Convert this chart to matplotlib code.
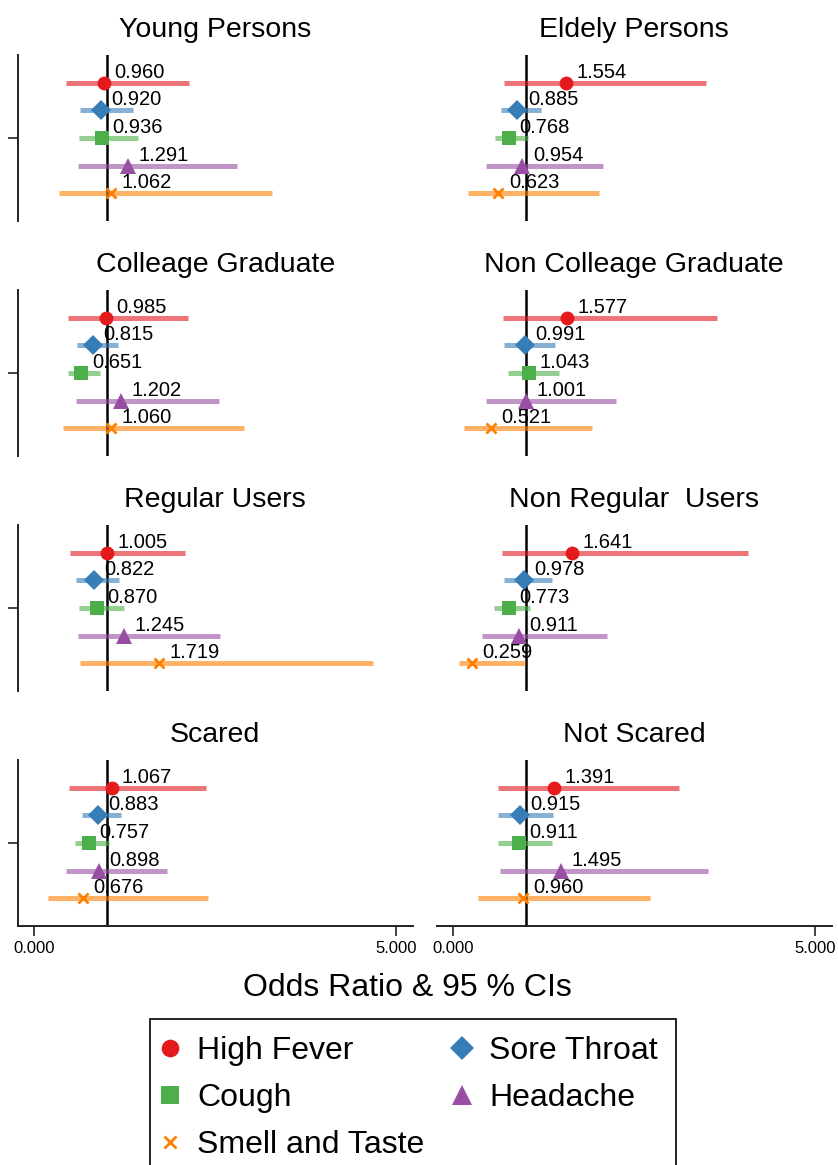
import matplotlib.pyplot as plt
from matplotlib.lines import Line2D

plt.rcParams["font.family"] = ["Liberation Sans", "DejaVu Sans"]

panels = [
    "Young Persons", "Eldely Persons",
    "Colleage Graduate", "Non Colleage Graduate",
    "Regular Users", "Non Regular  Users",
    "Scared", "Not Scared",
]
symptoms = ["High Fever", "Sore Throat", "Cough", "Headache", "Smell and Taste"]
colors = ["#e41a1c", "#377eb8", "#4daf4a", "#984ea3", "#ff7f00"]
markers = ["o", "D", "s", "^", "x"]
msizes = [10, 9.8, 10.3, 11.5, 7]

# odds ratios per panel, order as in symptoms
odds = [
    [0.960, 0.920, 0.936, 1.291, 1.062],
    [1.554, 0.885, 0.768, 0.954, 0.623],
    [0.985, 0.815, 0.651, 1.202, 1.060],
    [1.577, 0.991, 1.043, 1.001, 0.521],
    [1.005, 0.822, 0.870, 1.245, 1.719],
    [1.641, 0.978, 0.773, 0.911, 0.259],
    [1.067, 0.883, 0.757, 0.898, 0.676],
    [1.391, 0.915, 0.911, 1.495, 0.960],
]
lower = [
    [0.437, 0.630, 0.617, 0.598, 0.345],
    [0.694, 0.652, 0.579, 0.446, 0.197],
    [0.460, 0.585, 0.470, 0.575, 0.396],
    [0.690, 0.698, 0.749, 0.450, 0.142],
    [0.488, 0.579, 0.612, 0.607, 0.634],
    [0.666, 0.703, 0.566, 0.395, 0.073],
    [0.479, 0.658, 0.566, 0.441, 0.193],
    [0.620, 0.611, 0.611, 0.639, 0.339],
]
upper = [
    [2.138, 1.357, 1.435, 2.805, 3.283],
    [3.490, 1.213, 1.030, 2.064, 2.018],
    [2.130, 1.150, 0.910, 2.552, 2.892],
    [3.641, 1.407, 1.466, 2.243, 1.917],
    [2.079, 1.172, 1.241, 2.566, 4.681],
    [4.073, 1.366, 1.066, 2.119, 0.993],
    [2.378, 1.192, 1.026, 1.830, 2.405],
    [3.126, 1.379, 1.366, 3.517, 2.721],
]

W, H = 838, 1165
fig = plt.figure(figsize=(W / 100, H / 100), dpi=100)

col_left = [17.7, 436.7]
ax_w = 395.0
row_top = [55, 290, 525, 760]
ax_h = 166

for k, title in enumerate(panels):
    r, c = divmod(k, 2)
    ax = fig.add_axes([col_left[c] / W, 1 - (row_top[r] + ax_h) / H, ax_w / W, ax_h / H])
    ax.axvline(1, color="black", lw=1.8, zorder=1)
    for i in range(5):
        y = i + 1
        ax.plot([lower[k][i], upper[k][i]], [y, y], color=colors[i], alpha=0.6,
                lw=3.6, solid_capstyle="butt", zorder=2)
        ax.plot(odds[k][i], y, marker=markers[i], color=colors[i], ms=msizes[i],
                mew=2 if markers[i] == "x" else 0, zorder=3)
        ax.annotate(f"{odds[k][i]:.3f}", (odds[k][i], y), xytext=(7.5, 3.6),
                    textcoords="offset points", fontsize=14.5, ha="left", va="baseline",
                    zorder=4)
    ax.set_xlim(-0.23, 5.23)
    ax.set_ylim(6, 0)
    ax.set_title(title, fontsize=20.5, pad=13)
    for s in ["top", "right"]:
        ax.spines[s].set_visible(False)
    ax.spines["left"].set_visible(c == 0)
    ax.spines["bottom"].set_visible(r == 3)
    for s in ["left", "bottom"]:
        ax.spines[s].set_linewidth(1.4)
        ax.spines[s].set_color("#222222")
    if c == 0:
        ax.set_yticks([3])
        ax.set_yticklabels([""])
        ax.tick_params(axis="y", length=7.5, width=1.2, color="#222222")
    else:
        ax.set_yticks([])
    if r == 3:
        ax.set_xticks([0, 5])
        ax.set_xticklabels(["0.000", "5.000"])
        ax.tick_params(axis="x", length=7.5, width=1.2, labelsize=12, pad=3,
                       color="#222222")
    else:
        ax.set_xticks([])

fig.text(407.5 / W, 1 - 995.7 / H, "Odds Ratio & 95 % CIs", fontsize=23,
         ha="center", va="baseline")

handles = [
    Line2D([], [], ls="none", marker=markers[i], color=colors[i], ms=msizes[i],
           mew=2 if markers[i] == "x" else 0, label=symptoms[i])
    for i in [0, 2, 4, 1, 3]
]
leg = fig.legend(handles=handles, ncol=2, loc="upper left",
                 bbox_to_anchor=(150.4 / W, 1 - 1018.7 / H), borderaxespad=0,
                 fontsize=23, markerscale=1.27, handlelength=0.13, handletextpad=0.78,
                 columnspacing=1.13, labelspacing=0.53, borderpad=0.55,
                 fancybox=False, framealpha=1, edgecolor="black")
leg.get_frame().set_linewidth(1.2)

fig.savefig("out.png", dpi=100)
